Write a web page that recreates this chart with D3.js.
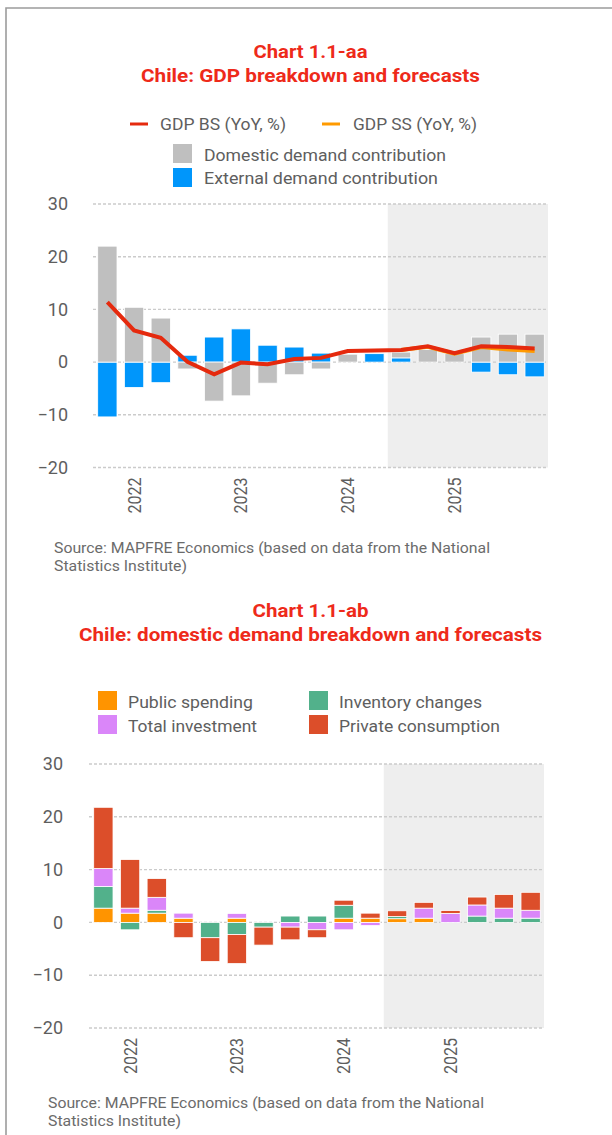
<!DOCTYPE html>
<html><head><meta charset="utf-8">
<script src="https://cdn.jsdelivr.net/npm/d3@7"></script>
<style>body{margin:0;background:#fff}svg{display:block}text{font-family:Roboto,"Noto Sans",sans-serif}</style>
</head><body><svg id="c" width="612" height="1135"></svg>
<script>
// ---------- data ----------
const quarters = ["2021Q4","2022Q1","2022Q2","2022Q3","2022Q4","2023Q1","2023Q2","2023Q3","2023Q4","2024Q1","2024Q2","2024Q3","2024Q4","2025Q1","2025Q2","2025Q3","2025Q4"];
const yearTickQuarters = ["2022Q1","2023Q1","2024Q1","2025Q1"];
const yearTickLabels = ["2022","2023","2024","2025"];
const yTicks = [-20,-10,0,10,20,30];
const forecastStart = "2024Q3";

// Chart 1.1-aa
const domesticContribution = [22.0,10.4,8.35,-1.3,-7.4,-6.4,-4.0,-2.4,-1.3,1.5,0,1.1,2.4,1.6,4.75,5.3,5.3];
const externalContribution = [-10.4,-4.8,-3.9,1.3,4.75,6.3,3.2,2.85,1.7,0,1.6,0.8,0,0,-1.9,-2.4,-2.8];
const gdpBS = [11.4,6.0,4.6,0.05,-2.3,-0.1,-0.4,0.6,0.8,2.1,2.2,2.3,3.0,1.7,3.0,2.85,2.6];
const gdpSS = [null,null,null,null,null,null,null,null,null,null,null,2.3,2.9,1.6,2.85,2.4,2.1];

// Chart 1.1-ab
const publicSpending     = [2.7,1.75,1.75,0.8,0,0.8,0,0,0,0.8,0.8,0.7,0.8,0,0,0,0];
const inventoryChanges   = [4.1,-1.4,0.55,0,-2.9,-2.3,-0.9,1.2,1.2,2.45,0,0.4,0,0,1.2,0.8,0.8];
const totalInvestment    = [3.4,0.95,2.45,0.95,0,0.9,0,-0.9,-1.4,-1.4,-0.6,0,1.9,1.7,2.1,1.9,1.5];
const privateConsumption = [11.6,9.2,3.55,-2.9,-4.5,-5.5,-3.4,-2.4,-1.5,0.95,0.95,1.1,1.1,0.55,1.5,2.6,3.4];

// ---------- helpers ----------
const svg = d3.select("#c");
const TXT = "#5e5e5e";
function addText(p, o){
  const t = p.append("text").attr("x",o.x).attr("y",o.y).text(o.text)
    .attr("font-size",o.size||17).attr("fill",o.fill||TXT)
    .attr("font-weight",o.weight||400).attr("text-anchor",o.anchor||"start");
  if(o.len){ t.attr("textLength",o.len).attr("lengthAdjust","spacingAndGlyphs"); }
  return t;
}

// frame
svg.append("path").attr("d","M6,1135V8H612").attr("fill","none").attr("stroke","#9c9c9c").attr("stroke-width",1.6);

const RED_T = "#ee2a1a";

function drawChart(cfg){
  const g = svg.append("g");
  const x = d3.scaleBand().domain(quarters).range([cfg.x0,cfg.x1]).paddingInner(0.277).paddingOuter(0.1385);
  const y = d3.scaleLinear().domain([-20,30]).range([cfg.yb,cfg.yt]);
  const step = x.step(), pad = step*0.1385;
  // forecast shading
  g.append("rect").attr("x",x(forecastStart)-pad).attr("y",y(30))
    .attr("width",cfg.x1-(x(forecastStart)-pad)).attr("height",y(-20)-y(30)).attr("fill","#eeeeee");
  // grid
  g.append("g").selectAll("line").data(yTicks).join("line")
    .attr("x1",cfg.x0-1).attr("x2",cfg.x1).attr("y1",d=>y(d)).attr("y2",d=>y(d))
    .attr("stroke","#cbcbcb").attr("stroke-width",1.4).attr("stroke-dasharray","3,2");
  // y axis
  const ya = g.append("g").attr("transform",`translate(${cfg.x0},0)`)
    .call(d3.axisLeft(y).tickValues(yTicks).tickSize(0).tickPadding(cfg.tickPad));
  ya.select(".domain").remove();
  ya.selectAll("text").attr("font-size",18).attr("fill",TXT).attr("font-family","Roboto");
  // x axis
  const xa = g.append("g").attr("transform",`translate(0,${cfg.yb})`)
    .call(d3.axisBottom(x).tickValues(yearTickQuarters).tickFormat((d,i)=>yearTickLabels[i]).tickSize(0));
  xa.select(".domain").remove();
  xa.selectAll("text").attr("font-size",18).attr("fill",TXT).attr("font-family","Roboto")
    .attr("text-anchor","end").attr("transform","translate(0,10) rotate(-90)")
    .attr("x",0).attr("y",0).attr("dy","0.36em").attr("textLength",36).attr("lengthAdjust","spacingAndGlyphs");
  // stacked bars
  const rows = quarters.map((q,i)=>{ const r={q}; cfg.series.forEach(s=>r[s.key]=s.values[i]); return r; });
  const stack = d3.stack().keys(cfg.series.map(s=>s.key)).offset(d3.stackOffsetDiverging)(rows);
  cfg.series.forEach((s,k)=>{
    g.append("g").selectAll("rect").data(stack[k]).join("rect")
      .attr("x",d=>x(d.data.q)).attr("width",x.bandwidth())
      .attr("y",d=>y(Math.max(d[0],d[1]))).attr("height",d=>Math.abs(y(d[0])-y(d[1])))
      .attr("fill",s.color).attr("stroke","#fff").attr("stroke-width",0.8);
  });
  // lines
  (cfg.lines||[]).forEach(L=>{
    const line = d3.line().defined(d=>d!=null).x((d,i)=>x(quarters[i])+x.bandwidth()/2).y(d=>y(d));
    g.append("path").datum(L.values).attr("d",line).attr("fill","none")
      .attr("stroke",L.color).attr("stroke-width",4).attr("stroke-linejoin","miter");
  });
}

// ---------- Chart 1.1-aa ----------
addText(svg,{x:310.5,y:58,text:"Chart 1.1-aa",size:19,weight:700,fill:RED_T,anchor:"middle",len:114});
addText(svg,{x:310.5,y:82,text:"Chile: GDP breakdown and forecasts",size:19,weight:700,fill:RED_T,anchor:"middle",len:339});
svg.append("line").attr("x1",130).attr("x2",148).attr("y1",124).attr("y2",124).attr("stroke","#e52a0e").attr("stroke-width",3);
addText(svg,{x:160,y:130,text:"GDP BS (YoY, %)",len:126});
svg.append("line").attr("x1",322).attr("x2",340).attr("y1",124).attr("y2",124).attr("stroke","#ff9a00").attr("stroke-width",3);
addText(svg,{x:353,y:130,text:"GDP SS (YoY, %)",len:124});
svg.append("rect").attr("x",173).attr("y",144).attr("width",19).attr("height",19).attr("fill","#bfbfbf");
addText(svg,{x:204,y:161,text:"Domestic demand contribution",len:242});
svg.append("rect").attr("x",173).attr("y",168).attr("width",19).attr("height",19).attr("fill","#0096fb");
addText(svg,{x:204,y:184,text:"External demand contribution",len:234});

drawChart({x0:94,x1:548,yt:204,yb:467.5,tickPad:26,
  series:[{key:"ext",values:externalContribution,color:"#0096fb"},
          {key:"dom",values:domesticContribution,color:"#bfbfbf"}],
  lines:[{values:gdpSS,color:"#ff9a00"},{values:gdpBS,color:"#e52a0e"}]});

addText(svg,{x:54,y:553,text:"Source: MAPFRE Economics (based on data from the National",size:14.5,fill:"#6b6b6b",len:436});
addText(svg,{x:54,y:571,text:"Statistics Institute)",size:14.5,fill:"#6b6b6b",len:133});

// ---------- Chart 1.1-ab ----------
addText(svg,{x:310.5,y:617,text:"Chart 1.1-ab",size:19,weight:700,fill:RED_T,anchor:"middle",len:116});
addText(svg,{x:310.5,y:641,text:"Chile: domestic demand breakdown and forecasts",size:19,weight:700,fill:RED_T,anchor:"middle",len:463});
const legB = [
  {x:98,y:691,c:"#ff9400",t:"Public spending",w:125},
  {x:309,y:691,c:"#52b18b",t:"Inventory changes",w:143},
  {x:98,y:715,c:"#da86f9",t:"Total investment",w:129},
  {x:309,y:715,c:"#dc4e2a",t:"Private consumption",w:161}];
legB.forEach(l=>{
  svg.append("rect").attr("x",l.x).attr("y",l.y).attr("width",19).attr("height",19).attr("fill",l.c);
  addText(svg,{x:l.x+30,y:l.y+17,text:l.t,len:l.w});
});

drawChart({x0:90,x1:544,yt:764,yb:1028,tickPad:27,
  series:[{key:"pub",values:publicSpending,color:"#ff9400"},
          {key:"inv",values:inventoryChanges,color:"#52b18b"},
          {key:"tinv",values:totalInvestment,color:"#da86f9"},
          {key:"priv",values:privateConsumption,color:"#dc4e2a"}]});

addText(svg,{x:48,y:1108,text:"Source: MAPFRE Economics (based on data from the National",size:14.5,fill:"#6b6b6b",len:436});
addText(svg,{x:48,y:1126,text:"Statistics Institute)",size:14.5,fill:"#6b6b6b",len:133});
</script></body></html>
